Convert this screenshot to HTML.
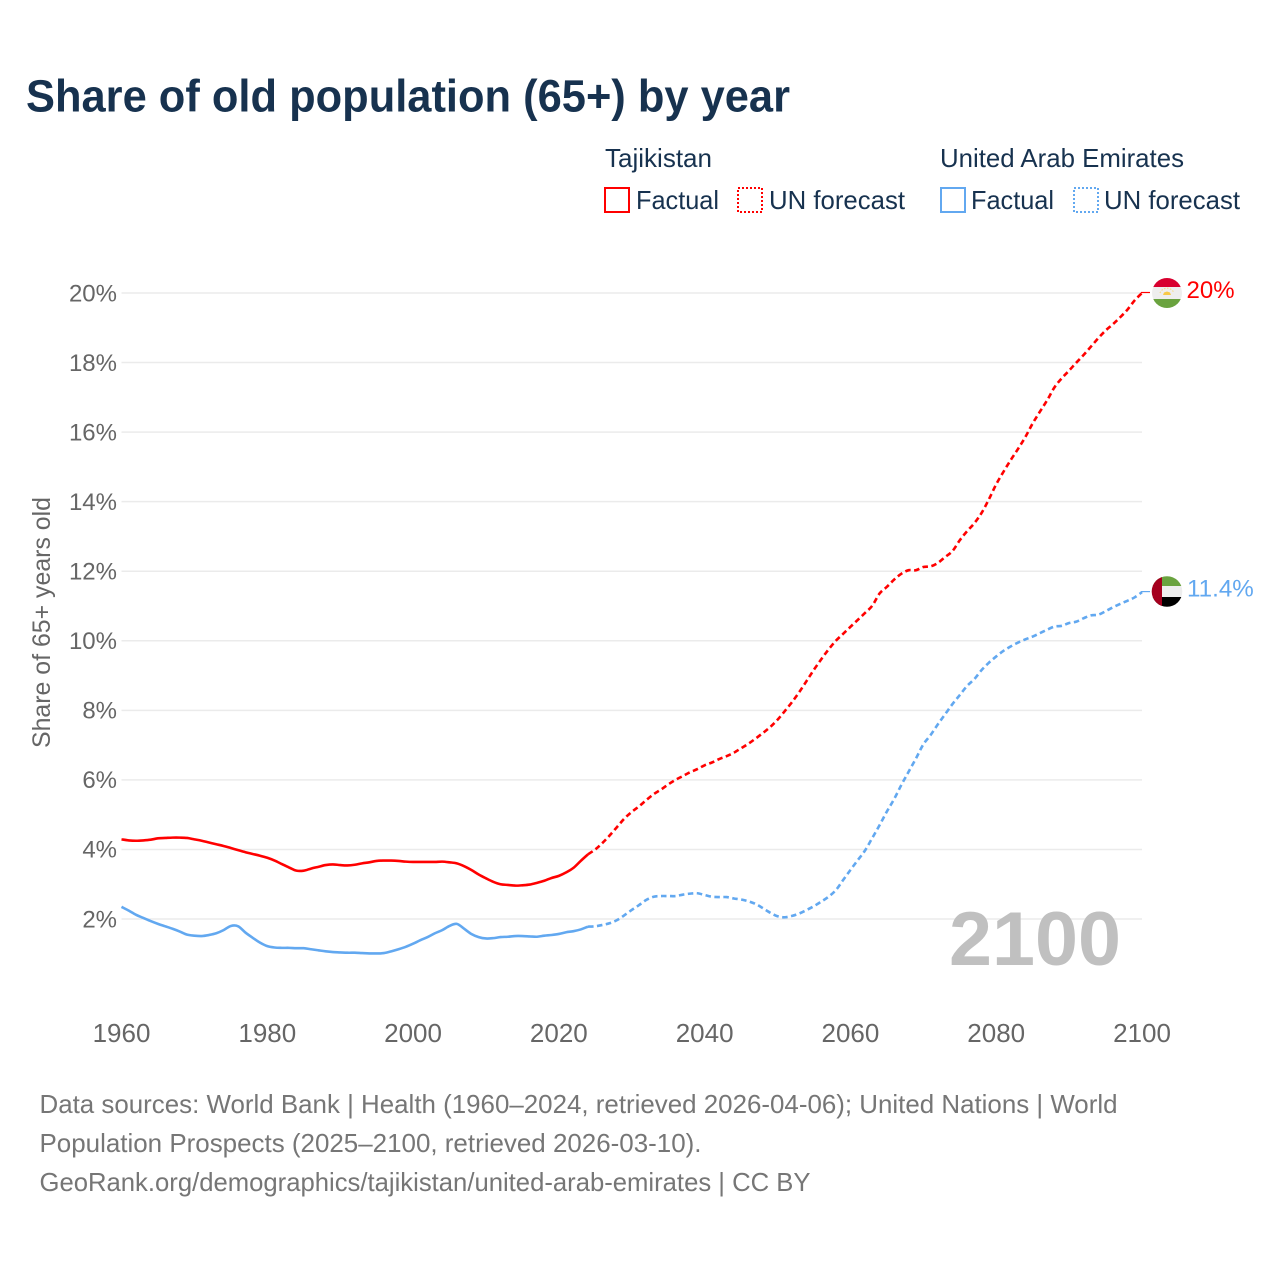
<!DOCTYPE html>
<html lang="en">
<head>
<meta charset="utf-8">
<title>Share of old population (65+) by year</title>
<style>
html,body{margin:0;padding:0;background:#fff;width:1280px;height:1280px;overflow:hidden}
svg{display:block}
text{font-family:"Liberation Sans",sans-serif}
</style>
</head>
<body>
<svg id="chart" xmlns="http://www.w3.org/2000/svg" width="1280" height="1280" viewBox="0 0 1280 1280">
  <defs>
    <clipPath id="clip-tj"><circle cx="1167" cy="293" r="15"/></clipPath>
    <clipPath id="clip-ae"><circle cx="1167" cy="591.5" r="15.3"/></clipPath>
  </defs>
  <text x="26" y="111.5" font-size="45" font-weight="700" fill="#17324f" textLength="764" lengthAdjust="spacingAndGlyphs">Share of old population (65+) by year</text>

  <g font-size="26" fill="#17324f">
    <text x="605" y="167" textLength="107" lengthAdjust="spacingAndGlyphs">Tajikistan</text>
    <rect x="605" y="188" width="24" height="24" fill="none" stroke="#ff0000" stroke-width="2"/>
    <text x="636" y="209" textLength="83" lengthAdjust="spacingAndGlyphs">Factual</text>
    <rect x="738" y="188" width="24" height="24" fill="none" stroke="#ff0000" stroke-width="2" stroke-dasharray="2 2"/>
    <text x="769" y="209" textLength="136" lengthAdjust="spacingAndGlyphs">UN forecast</text>

    <text x="940" y="167" textLength="244" lengthAdjust="spacingAndGlyphs">United Arab Emirates</text>
    <rect x="941" y="188" width="24" height="24" fill="none" stroke="#62a8f0" stroke-width="2"/>
    <text x="971" y="209" textLength="83" lengthAdjust="spacingAndGlyphs">Factual</text>
    <rect x="1074" y="188" width="24" height="24" fill="none" stroke="#62a8f0" stroke-width="2" stroke-dasharray="2 2"/>
    <text x="1104" y="209" textLength="136" lengthAdjust="spacingAndGlyphs">UN forecast</text>
  </g>

  <g id="grid"></g>
  <g id="yticks"></g>
  <g id="xticks"></g>

  <text transform="translate(50,748) rotate(-90)" font-size="25" fill="#666666" textLength="251" lengthAdjust="spacingAndGlyphs">Share of 65+ years old</text>

  <text x="949" y="965" font-size="76" font-weight="700" fill="#c0c0c0" textLength="172" lengthAdjust="spacingAndGlyphs">2100</text>

  <g id="series"></g>

  <g clip-path="url(#clip-tj)">
    <rect x="1150" y="277" width="34" height="10" fill="#d8002f"/>
    <rect x="1150" y="287" width="34" height="12" fill="#eeeeee"/>
    <rect x="1150" y="299" width="34" height="10" fill="#6aa33f"/>
    <path d="M1163 295 L1171 295 L1170 292.5 L1167 291.5 L1164 292.5 Z" fill="#f7c948"/>
    <path d="M1160 293 A7.5 7.5 0 0 1 1174 293" fill="none" stroke="#f7dc8a" stroke-width="1.2" stroke-dasharray="1.5 1.5"/>
  </g>
  <g clip-path="url(#clip-ae)">
    <rect x="1150" y="575" width="34" height="11" fill="#6aa33f"/>
    <rect x="1150" y="586" width="34" height="11" fill="#eeeeee"/>
    <rect x="1150" y="597" width="34" height="11" fill="#000000"/>
    <rect x="1150" y="575" width="12" height="33" fill="#a5001e"/>
  </g>
  <g id="endlabels"></g>

  <g font-size="26" fill="#767676">
    <text x="39.5" y="1113" textLength="1078" lengthAdjust="spacingAndGlyphs">Data sources: World Bank | Health (1960–2024, retrieved 2026-04-06); United Nations | World</text>
    <text x="39.5" y="1152" textLength="662" lengthAdjust="spacingAndGlyphs">Population Prospects (2025–2100, retrieved 2026-03-10).</text>
    <text x="39.5" y="1191" textLength="771" lengthAdjust="spacingAndGlyphs">GeoRank.org/demographics/tajikistan/united-arab-emirates | CC BY</text>
  </g>
</svg>

<script>
// Chart data (share of population aged 65+, percent)
const firstYear = 1960;
const lastFactualYear = 2024;
const tajikistanValues = [
  4.29,4.26,4.25,4.26,4.28,4.32,4.33,4.34,4.34,4.33,
  4.29,4.25,4.20,4.15,4.10,4.04,3.98,3.92,3.87,3.82,
  3.76,3.68,3.58,3.48,3.39,3.39,3.45,3.50,3.55,3.57,
  3.55,3.54,3.56,3.60,3.63,3.67,3.68,3.68,3.67,3.65,
  3.64,3.64,3.64,3.64,3.65,3.63,3.60,3.52,3.41,3.28,
  3.17,3.07,3.00,2.98,2.96,2.97,2.99,3.04,3.10,3.18,
  3.24,3.34,3.47,3.67,3.86,4.00,4.19,4.41,4.65,4.89,
  5.08,5.24,5.42,5.59,5.72,5.87,6.00,6.11,6.22,6.31,
  6.42,6.50,6.60,6.68,6.78,6.91,7.04,7.19,7.35,7.52,
  7.73,7.98,8.24,8.53,8.85,9.17,9.47,9.75,10.00,10.20,
  10.40,10.60,10.80,11.01,11.36,11.55,11.76,11.93,12.03,12.03,
  12.12,12.14,12.24,12.41,12.58,12.89,13.15,13.38,13.68,14.07,
  14.50,14.86,15.20,15.52,15.86,16.25,16.59,16.92,17.29,17.55,
  17.77,18.00,18.22,18.46,18.70,18.92,19.10,19.30,19.52,19.79,
  20.00
];
const uaeValues = [
  2.35,2.24,2.12,2.03,1.94,1.86,1.79,1.72,1.64,1.55,
  1.52,1.51,1.54,1.59,1.68,1.80,1.79,1.61,1.46,1.32,
  1.22,1.18,1.17,1.17,1.16,1.16,1.13,1.10,1.07,1.05,
  1.04,1.03,1.03,1.02,1.01,1.01,1.02,1.07,1.13,1.20,
  1.29,1.39,1.48,1.59,1.68,1.80,1.86,1.72,1.57,1.48,
  1.44,1.45,1.48,1.49,1.51,1.51,1.50,1.49,1.52,1.54,
  1.57,1.62,1.65,1.70,1.78,1.79,1.83,1.88,1.97,2.11,
  2.26,2.40,2.55,2.64,2.66,2.66,2.66,2.70,2.73,2.74,
  2.69,2.64,2.63,2.63,2.59,2.56,2.51,2.43,2.31,2.18,
  2.08,2.05,2.09,2.16,2.26,2.37,2.50,2.64,2.83,3.12,
  3.41,3.69,3.97,4.33,4.70,5.09,5.45,5.86,6.24,6.62,
  7.02,7.29,7.60,7.89,8.18,8.44,8.70,8.90,9.16,9.37,
  9.55,9.71,9.84,9.95,10.04,10.12,10.22,10.32,10.41,10.43,
  10.51,10.55,10.65,10.73,10.75,10.85,10.96,11.06,11.15,11.25,
  11.40
];
const yTickValues = [2,4,6,8,10,12,14,16,18,20];
const yTickLabels = ["2%","4%","6%","8%","10%","12%","14%","16%","18%","20%"];
const xTickValues = [1960,1980,2000,2020,2040,2060,2080,2100];
const xTickLabels = ["1960","1980","2000","2020","2040","2060","2080","2100"];
const endLabelTajikistan = "20%";
const endLabelUae = "11.4%";

// Axis functions
function xScale(year){ return 121.5 + (year - 1960) * (1142 - 121.5) / 140; }
function yScale(value){ return 919 - (value - 2) * (919 - 293) / 18; }

const SVG_NS = "http://www.w3.org/2000/svg";
function make(tag, parent){
  const el = document.createElementNS(SVG_NS, tag);
  parent.appendChild(el);
  return el;
}
function pathFrom(values, startIndex, endIndex){
  const pts = [];
  for(let i = startIndex; i <= endIndex; i++){
    pts.push([xScale(firstYear + i), yScale(values[i])]);
  }
  let d = "M" + pts[0][0].toFixed(2) + " " + pts[0][1].toFixed(2);
  for(let i = 0; i < pts.length - 1; i++){
    const p0 = pts[Math.max(i - 1, 0)], p1 = pts[i], p2 = pts[i + 1], p3 = pts[Math.min(i + 2, pts.length - 1)];
    const c1x = p1[0] + (p2[0] - p0[0]) / 6, c1y = p1[1] + (p2[1] - p0[1]) / 6;
    const c2x = p2[0] - (p3[0] - p1[0]) / 6, c2y = p2[1] - (p3[1] - p1[1]) / 6;
    d += "C" + c1x.toFixed(2) + " " + c1y.toFixed(2) + " " + c2x.toFixed(2) + " " + c2y.toFixed(2) + " " + p2[0].toFixed(2) + " " + p2[1].toFixed(2);
  }
  return d;
}

const gridGroup = document.getElementById("grid");
const yTickGroup = document.getElementById("yticks");
const xTickGroup = document.getElementById("xticks");
const seriesGroup = document.getElementById("series");
const endGroup = document.getElementById("endlabels");

yTickValues.forEach(function(v, i){
  const line = make("line", gridGroup);
  
  
  line.setAttribute("x1", xScale(1960));
  line.setAttribute("x2", xScale(2100));
  line.setAttribute("y1", yScale(v));
  line.setAttribute("y2", yScale(v));
  line.setAttribute("stroke", "#ebebeb");
  line.setAttribute("stroke-width", "1.5");

  const label = make("text", yTickGroup);
  
  
  label.setAttribute("x", 117);
  label.setAttribute("y", yScale(v) + 8.3);
  label.setAttribute("text-anchor", "end");
  label.setAttribute("font-size", "24");
  label.setAttribute("fill", "#666666");
  label.textContent = yTickLabels[i];
});

xTickValues.forEach(function(v, i){
  const label = make("text", xTickGroup);
  
  
  label.setAttribute("x", xScale(v));
  label.setAttribute("y", 1042);
  label.setAttribute("text-anchor", "middle");
  label.setAttribute("font-size", "26");
  label.setAttribute("fill", "#666666");
  label.textContent = xTickLabels[i];
});

const splitIndex = lastFactualYear - firstYear;

function styleLine(el, color, dashed){
  el.setAttribute("fill", "none");
  el.setAttribute("stroke", color);
  el.setAttribute("stroke-width", "2.6");
  el.setAttribute("stroke-linejoin", "round");
  if(dashed){ el.setAttribute("stroke-dasharray", "5.5 3.5"); }
}

const uaeFactual = make("path", seriesGroup);


uaeFactual.setAttribute("d", pathFrom(uaeValues, 0, splitIndex));
styleLine(uaeFactual, "#62a8f0", false);

const uaeForecast = make("path", seriesGroup);


uaeForecast.setAttribute("d", pathFrom(uaeValues, splitIndex, uaeValues.length - 1));
styleLine(uaeForecast, "#62a8f0", true);

const tjFactual = make("path", seriesGroup);


tjFactual.setAttribute("d", pathFrom(tajikistanValues, 0, splitIndex));
styleLine(tjFactual, "#ff0000", false);

const tjForecast = make("path", seriesGroup);


tjForecast.setAttribute("d", pathFrom(tajikistanValues, splitIndex, tajikistanValues.length - 1));
styleLine(tjForecast, "#ff0000", true);

const tjLast = tajikistanValues[tajikistanValues.length - 1];
const uaeLast = uaeValues[uaeValues.length - 1];

const tjConnector = make("line", seriesGroup);


tjConnector.setAttribute("x1", xScale(2100) - 1);
tjConnector.setAttribute("x2", 1150);
tjConnector.setAttribute("y1", yScale(tjLast) - 0.5);
tjConnector.setAttribute("y2", yScale(tjLast) - 0.5);
tjConnector.setAttribute("stroke", "#ff0000");
tjConnector.setAttribute("stroke-width", "1.2");

const uaeConnector = make("line", seriesGroup);


uaeConnector.setAttribute("x1", xScale(2100) - 1);
uaeConnector.setAttribute("x2", 1150);
uaeConnector.setAttribute("y1", yScale(uaeLast) - 0.5);
uaeConnector.setAttribute("y2", yScale(uaeLast) - 0.5);
uaeConnector.setAttribute("stroke", "#62a8f0");
uaeConnector.setAttribute("stroke-width", "1.2");

const tjEnd = make("text", endGroup);


tjEnd.setAttribute("x", 1186.5);
tjEnd.setAttribute("y", yScale(tjLast) + 5);
tjEnd.setAttribute("font-size", "24");
tjEnd.setAttribute("fill", "#ff0000");
tjEnd.textContent = endLabelTajikistan;

const uaeEnd = make("text", endGroup);


uaeEnd.setAttribute("x", 1187);
uaeEnd.setAttribute("y", yScale(uaeLast) + 4.5);
uaeEnd.setAttribute("font-size", "24.2");
uaeEnd.setAttribute("fill", "#62a8f0");
uaeEnd.textContent = endLabelUae;
</script>
</body>
</html>
